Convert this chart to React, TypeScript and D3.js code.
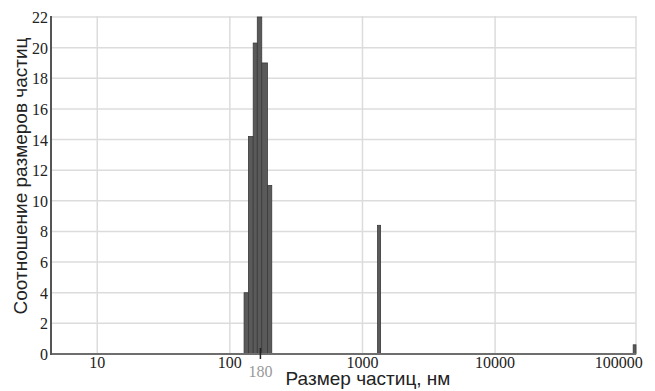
import React from "react";
import * as d3 from "d3";

const binStart = [128, 138, 150, 161, 174, 192, 1300, 110000];
const binEnd = [138, 150, 161, 174, 192, 207, 1370, 115500];
const binValue = [4.0, 14.2, 20.3, 22.0, 19.0, 11.0, 8.4, 0.6];
const xTicks = [10, 100, 1000, 10000, 100000];
const yTicks = [0, 2, 4, 6, 8, 10, 12, 14, 16, 18, 20, 22];
const markerValue = 170;
const markerLabel = "180";
const xTitle = "Размер частиц, нм";
const yTitle = "Соотношение размеров частиц";

export default function App() {
  const W = 655, H = 391;
  const left = 51, right = 636, top = 16, bottom = 354;
  const x = d3.scaleLog().domain([4.48, 115500]).range([left, right]);
  const y = d3.scaleLinear().domain([0, 22]).range([bottom, top + 1]);
  const serif = '"Times New Roman", "Liberation Serif", Tinos, "Noto Serif", "DejaVu Serif", serif';
  const sans = '"Liberation Sans", Arial, sans-serif';
  return (
    <svg width={W} height={H} style={{ position: "absolute", left: 0, top: 0, background: "#fff" }}>
      {yTicks.map((t) => (
        <line key={"gy" + t} x1={left} x2={right} y1={y(t)} y2={y(t)} stroke="#dcdcdc" strokeWidth={1.5} />
      ))}
      {xTicks.slice(0, 4).map((t) => (
        <line key={"gx" + t} x1={x(t)} x2={x(t)} y1={top} y2={bottom} stroke="#dcdcdc" strokeWidth={1.5} />
      ))}
      <line x1={right} x2={right} y1={top} y2={bottom} stroke="#dcdcdc" strokeWidth={1.5} />
      {binValue.map((v, i) => (
        <rect
          key={"b" + i}
          x={x(binStart[i])}
          y={y(v)}
          width={Math.max(2, x(binEnd[i]) - x(binStart[i]))}
          height={bottom - y(v)}
          fill="#5a5a5a"
          stroke="#3a3a3a"
          strokeWidth={0.8}
        />
      ))}
      <line x1={left} x2={right} y1={bottom} y2={bottom} stroke="#6e6e6e" strokeWidth={2} />
      <line x1={left} x2={left} y1={top} y2={bottom + 1} stroke="#555" strokeWidth={2} />
      <line x1={x(markerValue)} x2={x(markerValue)} y1={bottom - 6} y2={bottom + 5} stroke="#222" strokeWidth={1.5} />
      <g style={{ fontFamily: serif, fontSize: "16px" }}>
        {yTicks.map((t) => (
          <text key={"ty" + t} x={left - 3} y={y(t) + 6} textAnchor="end" fill="#222">
            {t}
          </text>
        ))}
        {xTicks.map((t) => (
          <text key={"tx" + t} x={t === 100000 ? x(t) - 9 : x(t)} y={bottom + 14} textAnchor="middle" fill="#222">
            {t}
          </text>
        ))}
        <text x={x(markerValue)} y={bottom + 23} textAnchor="middle" fill="#999">
          {markerLabel}
        </text>
      </g>
      <text x={368} y={385} textAnchor="middle" style={{ fontFamily: sans, fontSize: "19px" }} fill="#222">
        {xTitle}
      </text>
      <text transform={`translate(27,176) rotate(-90)`} textAnchor="middle" style={{ fontFamily: sans, fontSize: "19px" }} fill="#222">
        {yTitle}
      </text>
    </svg>
  );
}
